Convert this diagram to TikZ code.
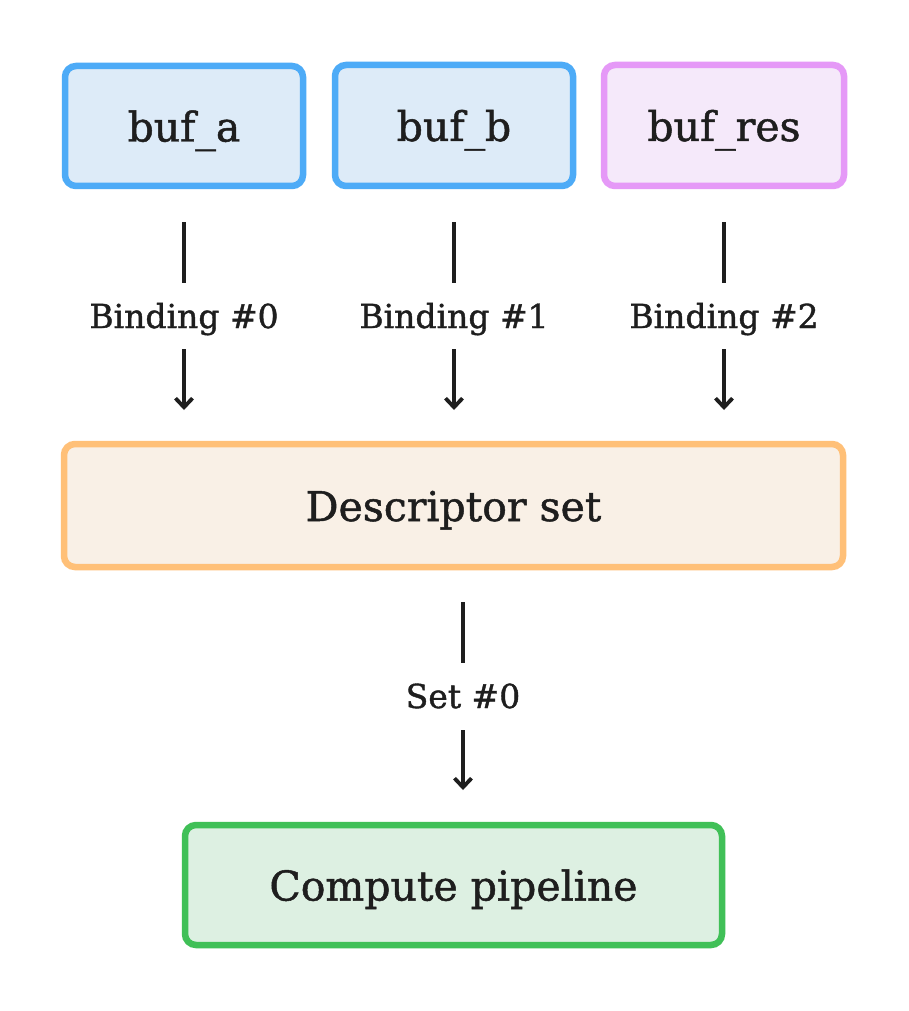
\documentclass[tikz,border=0pt]{standalone}
\usepackage{fontspec}
\setmainfont{DejaVu Serif}[FakeBold=1.2]
\usetikzlibrary{arrows.meta}
\definecolor{bluestroke}{HTML}{4DABF7}
\definecolor{bluefill}{HTML}{DDEBF8}
\definecolor{pinkstroke}{HTML}{E599F7}
\definecolor{pinkfill}{HTML}{F5E9FA}
\definecolor{orangestroke}{HTML}{FFC078}
\definecolor{orangefill}{HTML}{F9F0E6}
\definecolor{greenstroke}{HTML}{40C057}
\definecolor{greenfill}{HTML}{DDF0E2}
\definecolor{ink}{HTML}{1E1E1E}
\begin{document}
\begin{tikzpicture}[x=1pt,y=-1pt,
  boxstyle/.style={draw, line width=6.5pt, rounded corners=11pt, inner sep=0pt,
    text height=31pt, text depth=0pt,
    text=ink, font=\fontsize{41}{48}\selectfont},
  lbl/.style={text=ink, font=\fontsize{33}{38}\selectfont, inner sep=0pt,
    text height=22pt, text depth=0pt},
  seg/.style={draw=ink, line width=3.8pt},
  arr/.style={draw=ink, line width=3.8pt, -{Straight Barb[length=9pt,width=17pt,line width=3.8pt]}}]
\useasboundingbox[fill=white] (0,0) rectangle (908,1011);
\node[boxstyle, draw=bluestroke, fill=bluefill, minimum width=238pt, minimum height=120pt] (bufa) at (184,126) {buf\_a};
\node[boxstyle, draw=bluestroke, fill=bluefill, minimum width=238pt, minimum height=121pt] (bufb) at (454,125.5) {buf\_b};
\node[boxstyle, draw=pinkstroke, fill=pinkfill, minimum width=240pt, minimum height=121pt] (bufres) at (724,125.5) {buf\_res};
\node[boxstyle, draw=orangestroke, fill=orangefill, minimum width=779pt, minimum height=123pt] (desc) at (453.5,505.5) {Descriptor set};
\node[boxstyle, draw=greenstroke, fill=greenfill, minimum width=537pt, minimum height=120pt] (comp) at (453.5,885) {Compute pipeline};
% labels
\node[lbl] (l0) at (184,317) {Binding \#0};
\node[lbl] (l1) at (454,317) {Binding \#1};
\node[lbl] (l2) at (724,317) {Binding \#2};
\node[lbl] (ls) at (463,697) {Set \#0};
% connector coordinates
\coordinate (a0) at (184,222); \coordinate (a1) at (184,283);
\coordinate (a2) at (184,349); \coordinate (a3) at (184,410);
\coordinate (b0) at (454,222); \coordinate (b1) at (454,283);
\coordinate (b2) at (454,349); \coordinate (b3) at (454,410);
\coordinate (c0) at (724,222); \coordinate (c1) at (724,283);
\coordinate (c2) at (724,349); \coordinate (c3) at (724,410);
\coordinate (d0) at (463,602); \coordinate (d1) at (463,663);
\coordinate (d2) at (463,730); \coordinate (d3) at (463,790);
\draw[seg] (a0) -- (a1); \draw[arr] (a2) -- (a3);
\draw[seg] (b0) -- (b1); \draw[arr] (b2) -- (b3);
\draw[seg] (c0) -- (c1); \draw[arr] (c2) -- (c3);
\draw[seg] (d0) -- (d1); \draw[arr] (d2) -- (d3);
\end{tikzpicture}
\end{document}
